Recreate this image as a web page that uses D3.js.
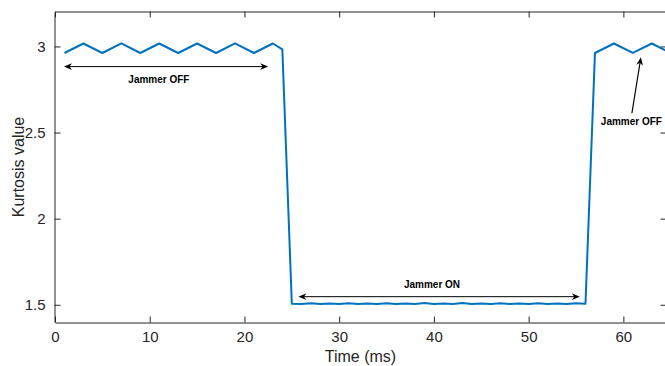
<!DOCTYPE html>
<html>
<head>
<meta charset="utf-8">
<script src="https://cdn.jsdelivr.net/npm/d3@7"></script>
<style>
  html, body { margin: 0; padding: 0; background: #fff; }
  svg { display: block; }
  text { font-family: "Liberation Sans", Arial, Helvetica, sans-serif; }
</style>
</head>
<body>
<svg id="chart" width="665" height="366"></svg>
<script>
// Kurtosis of the received signal over time (ms)
const time = [
  1, 3, 5, 7, 9, 11, 13, 15, 17, 19, 21, 23, 24,
  25, 26, 27, 28, 29, 30, 31, 32, 33, 34, 35, 36, 37, 38, 39, 40,
  41, 42, 43, 44, 45, 46, 47, 48, 49, 50, 51, 52, 53, 54, 55, 56,
  57, 59, 61, 63, 65
];
const kurtosis = [
  2.962, 3.017, 2.962, 3.018, 2.962, 3.017, 2.962, 3.017, 2.962, 3.018, 2.962, 3.017, 2.983,
  1.506, 1.505, 1.509, 1.505, 1.508, 1.504, 1.509, 1.505, 1.508, 1.505, 1.509, 1.504, 1.508, 1.505, 1.510, 1.505,
  1.508, 1.504, 1.510, 1.505, 1.508, 1.505, 1.509, 1.504, 1.508, 1.505, 1.509, 1.505, 1.508, 1.504, 1.509, 1.506,
  2.962, 3.017, 2.963, 3.017, 2.962
];

const xTicks = [0, 10, 20, 30, 40, 50, 60];
const yTicks = [1.5, 2, 2.5, 3];
const xLabel = "Time (ms)";
const yLabel = "Kurtosis value";

// Annotations (data coordinates)
const spanArrows = [
  { label: "Jammer OFF", t0: 0.95, t1: 22.5, y: 2.883, labelT: 10.97, labelY: 2.790 },
  { label: "Jammer ON",  t0: 25.7, t1: 55.4, y: 1.547, labelT: 39.8,  labelY: 1.595 }
];
const pointerArrows = [
  { label: "Jammer OFF", tailT: 60.9, tailY: 2.612, headT: 61.85, headY: 2.937, labelT: 60.85, labelY: 2.544 }
];

const svg = d3.select("#chart");
const plotLeft = 55, plotRight = 666, plotTop = 12, plotBottom = 322;
const axisColor = "#262626";

const x = d3.scaleLinear().domain([0, 64.5]).range([plotLeft, plotRight]);
const y = d3.scaleLinear().domain([1.4, 3.2]).range([plotBottom, plotTop]);

svg.append("defs").append("clipPath").attr("id", "plotClip")
  .append("rect").attr("x", plotLeft).attr("y", plotTop)
  .attr("width", plotRight - plotLeft).attr("height", plotBottom - plotTop);

// Axes (box with inward ticks)
const tickLen = 6;
const xAxisB = d3.axisBottom(x).tickValues(xTicks).tickSizeInner(-tickLen).tickSizeOuter(0).tickPadding(tickLen + 3).tickFormat(d3.format("d"));
const xAxisT = d3.axisTop(x).tickValues(xTicks).tickSizeInner(-tickLen).tickSizeOuter(0).tickFormat("");
const yAxisL = d3.axisLeft(y).tickValues(yTicks).tickSizeInner(-tickLen).tickSizeOuter(0).tickPadding(tickLen + 3).tickFormat(d3.format("~g"));
const yAxisR = d3.axisRight(y).tickValues(yTicks).tickSizeInner(-tickLen).tickSizeOuter(0).tickFormat("");

function styleAxis(g) {
  g.select(".domain").attr("stroke", axisColor).attr("stroke-width", 1);
  g.selectAll(".tick line").attr("stroke", axisColor).attr("stroke-width", 1);
  g.selectAll(".tick text").attr("fill", axisColor).attr("font-size", 15)
    .attr("font-family", "'Liberation Sans', Arial, Helvetica, sans-serif");
}

svg.append("g").attr("transform", `translate(0,${plotBottom + 0.5})`).call(xAxisB).call(styleAxis);
svg.append("g").attr("transform", `translate(0,${plotTop - 0.5})`).call(xAxisT).call(styleAxis);
svg.append("g").attr("transform", `translate(${plotLeft - 0.5},0)`).call(yAxisL).call(styleAxis);
svg.append("g").attr("transform", `translate(${plotRight + 0.5},0)`).call(yAxisR).call(styleAxis);

// Axis labels
svg.append("text")
  .attr("x", (plotLeft + plotRight) / 2).attr("y", 362)
  .attr("text-anchor", "middle").attr("font-size", 16).attr("fill", axisColor)
  .text(xLabel);
svg.append("text")
  .attr("transform", `translate(24,${(plotTop + plotBottom) / 2}) rotate(-90)`)
  .attr("text-anchor", "middle").attr("font-size", 16).attr("fill", axisColor)
  .text(yLabel);

// Kurtosis series
const line = d3.line().x((d, i) => x(time[i])).y(d => y(d));
svg.append("path")
  .datum(kurtosis)
  .attr("clip-path", "url(#plotClip)")
  .attr("fill", "none")
  .attr("stroke", "#0072BD")
  .attr("stroke-width", 2)
  .attr("stroke-linejoin", "round")
  .attr("d", line);

// Arrowheads
function arrowHead(g, xt, yt, angle) {
  g.append("path")
    .attr("d", "M0,0 L-8,-3.4 L-5.5,0 L-8,3.4 Z")
    .attr("fill", "#000")
    .attr("transform", `translate(${xt},${yt}) rotate(${angle})`);
}

const ann = svg.append("g");
spanArrows.forEach(a => {
  const yy = y(a.y), x0 = x(a.t0), x1 = x(a.t1);
  ann.append("line").attr("x1", x0 + 3).attr("x2", x1 - 3)
    .attr("y1", yy).attr("y2", yy).attr("stroke", "#000").attr("stroke-width", 1);
  arrowHead(ann, x0, yy, 180);
  arrowHead(ann, x1, yy, 0);
  ann.append("text").attr("x", x(a.labelT)).attr("y", y(a.labelY))
    .attr("text-anchor", "middle").attr("font-size", 10).attr("font-weight", "bold")
    .attr("fill", "#000").text(a.label);
});

pointerArrows.forEach(a => {
  const xt = x(a.tailT), yt = y(a.tailY), xh = x(a.headT), yh = y(a.headY);
  const ang = Math.atan2(yh - yt, xh - xt) * 180 / Math.PI;
  const len = Math.hypot(xh - xt, yh - yt);
  const ux = (xh - xt) / len, uy = (yh - yt) / len;
  ann.append("line").attr("x1", xt).attr("y1", yt)
    .attr("x2", xh - ux * 4).attr("y2", yh - uy * 4)
    .attr("stroke", "#000").attr("stroke-width", 1.2);
  arrowHead(ann, xh, yh, ang);
  ann.append("text").attr("x", x(a.labelT)).attr("y", y(a.labelY))
    .attr("text-anchor", "middle").attr("font-size", 10).attr("font-weight", "bold")
    .attr("fill", "#000").text(a.label);
});
</script>
</body>
</html>
